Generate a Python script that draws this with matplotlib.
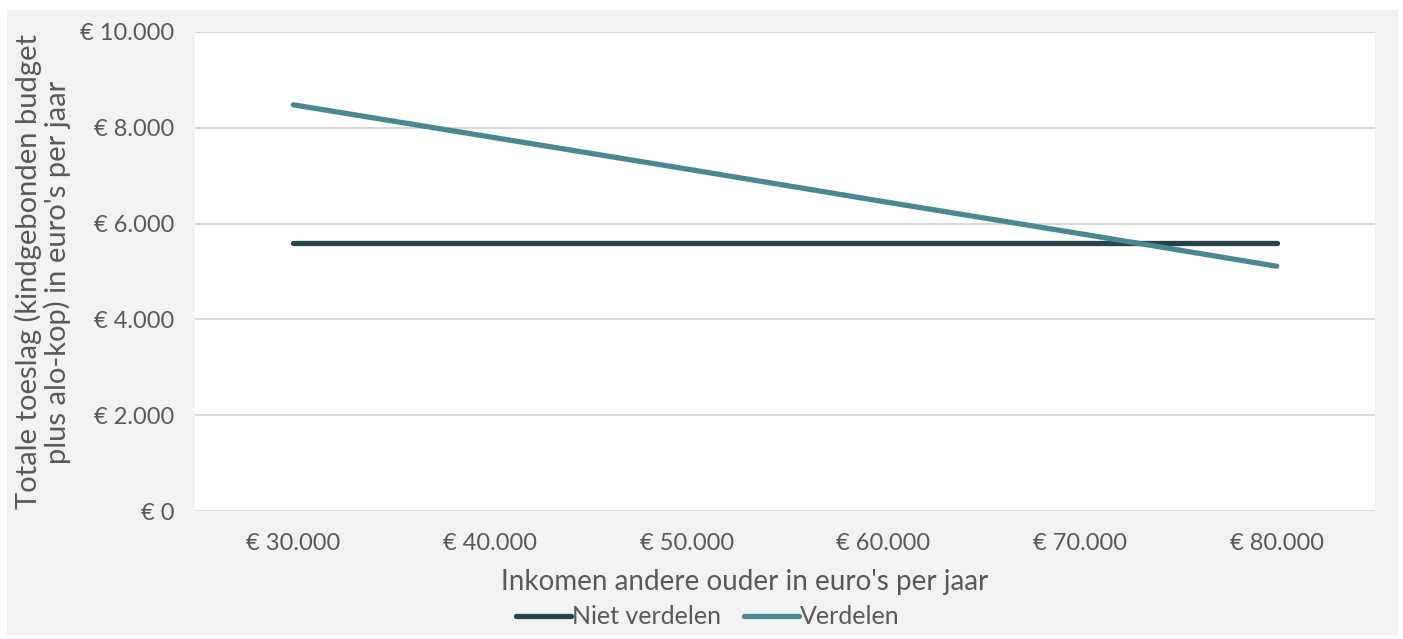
import matplotlib.pyplot as plt
from matplotlib.patches import Rectangle

# Data
inkomens = ['€ 30.000', '€ 40.000', '€ 50.000', '€ 60.000', '€ 70.000', '€ 80.000']
niet_verdelen = [5600, 5600, 5600, 5600, 5600, 5600]
verdelen = [8480, 7810, 7140, 6460, 5790, 5110]
y_ticks = [0, 2000, 4000, 6000, 8000, 10000]
y_labels = ['€ 0', '€ 2.000', '€ 4.000', '€ 6.000', '€ 8.000', '€ 10.000']

plt.rcParams['font.family'] = ['Lato', 'DejaVu Sans']
tekst = '#595959'

fig = plt.figure(figsize=(14.03, 6.39), dpi=100, facecolor='white')
fig.patches.append(Rectangle((7 / 1403, 4 / 639), 1391 / 1403, 625 / 639,
                             transform=fig.transFigure, facecolor='#f2f2f2',
                             edgecolor='none', zorder=-1))
ax = fig.add_axes([195 / 1403, 1 - 511 / 639, 1180 / 1403, 479 / 639])
ax.set_facecolor('white')

x = range(len(inkomens))
ax.plot(x, niet_verdelen, color='#27434a', lw=3.8, solid_capstyle='round', label='Niet verdelen', zorder=3)
ax.plot(x, verdelen, color='#4a8793', lw=3.8, solid_capstyle='round', label='Verdelen', zorder=3)

ax.set_xlim(-0.5, len(inkomens) - 0.5)
ax.set_ylim(0, 10000)
ax.set_xticks(list(x))
ax.set_xticklabels(inkomens)
ax.set_yticks(y_ticks)
ax.set_yticklabels(y_labels)
ax.tick_params(length=0, labelsize=17, labelcolor=tekst)
ax.tick_params(axis='y', pad=15)
ax.tick_params(axis='x', pad=16)
ax.grid(axis='y', color='#d9d9d9', lw=1.5, zorder=0)
for s in ax.spines.values():
    s.set_visible(False)

# As-titels los geplaatst, zoals in het origineel
fig.text(745 / 1403, 1 - 582 / 639, "Inkomen andere ouder in euro's per jaar",
         fontsize=20, color=tekst, ha='center', va='center')
fig.text(43 / 1403, 1 - 272 / 639, "Totale toeslag (kindgebonden budget\nplus alo-kop) in euro's per jaar",
         fontsize=21, color=tekst, ha='center', va='center', rotation=90, linespacing=1.05)

leg = fig.legend(loc='center', bbox_to_anchor=(708 / 1403, 1 - 617 / 639), ncol=2, frameon=False,
                 fontsize=18, handlelength=2.2, handletextpad=0.05, columnspacing=0.9)
for t in leg.get_texts():
    t.set_color(tekst)

fig.savefig('out.png', dpi=100, facecolor='white')
